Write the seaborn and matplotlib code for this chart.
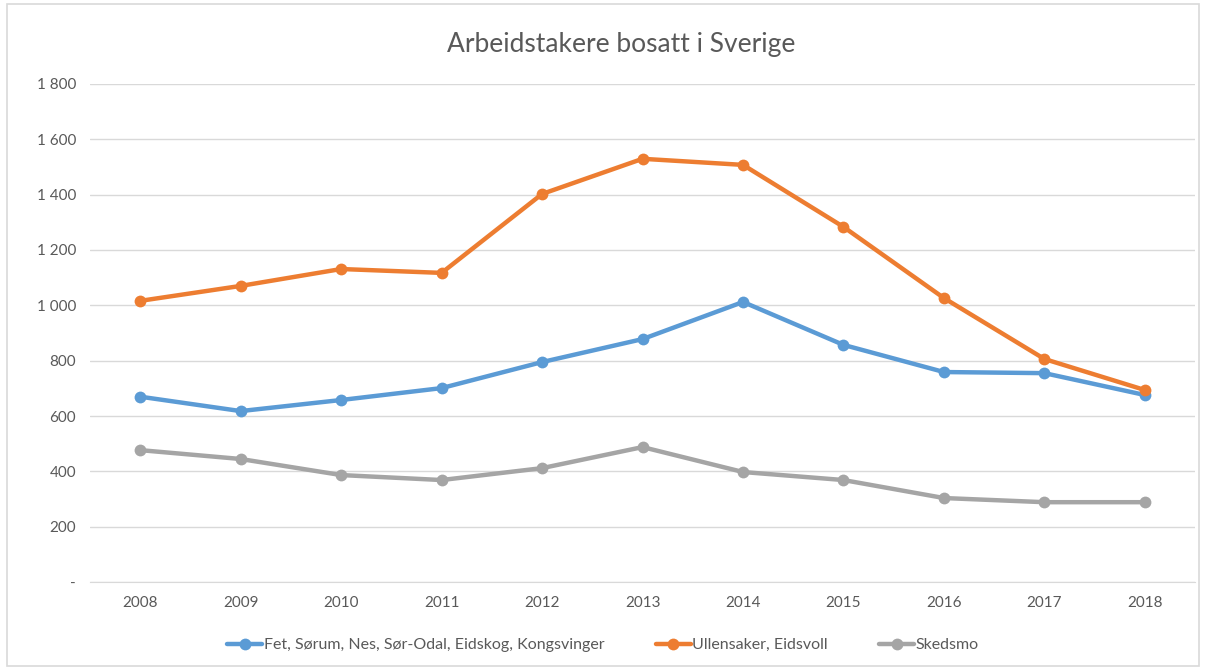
import numpy as np
import pandas as pd
import matplotlib
matplotlib.use("Agg")
import matplotlib.pyplot as plt
import matplotlib.ticker as mticker
import seaborn as sns

years = [2008, 2009, 2010, 2011, 2012, 2013, 2014, 2015, 2016, 2017, 2018]
fet = [670, 618, 658, 701, 795, 878, 1012, 857, 759, 755, 676]
ullensaker = [1016, 1070, 1131, 1117, 1402, 1529, 1507, 1283, 1026, 806, 694]
skedsmo = [477, 445, 387, 369, 412, 488, 398, 369, 304, 289, 289]

series_names = ["Fet, Sørum, Nes, Sør-Odal, Eidskog, Kongsvinger",
                "Ullensaker, Eidsvoll", "Skedsmo"]
colors = ["#5B9BD5", "#ED7D31", "#A5A5A5"]

df = pd.DataFrame({
    "year": years * 3,
    "value": fet + ullensaker + skedsmo,
    "serie": [series_names[0]] * 11 + [series_names[1]] * 11 + [series_names[2]] * 11,
})
df["pos"] = df["year"] - years[0]

sns.set_style("white")
plt.rcParams["font.family"] = ["Lato", "DejaVu Sans"]

fig = plt.figure(figsize=(12.06, 6.70), dpi=100)
ax = fig.add_axes([0.0746, 0.131, 0.9164, 0.744])

sns.lineplot(data=df, x="pos", y="value", hue="serie", palette=colors,
             marker="o", markersize=8.5, markeredgewidth=0, linewidth=3.2,
             ax=ax, legend=False)

ax.set_xlim(-0.5, len(years) - 0.5)
ax.set_ylim(0, 1800)
ax.set_xticks(range(len(years)))
ax.set_xticklabels([str(y) for y in years])
ax.set_yticks(range(0, 1801, 200))

def fmt(v, p):
    if v == 0:
        return "-"
    return f"{int(v):,}".replace(",", " ")

ax.yaxis.set_major_formatter(mticker.FuncFormatter(fmt))
ax.yaxis.grid(True, color="#D9D9D9", linewidth=1)
ax.set_axisbelow(True)
for s in ["top", "right", "left"]:
    ax.spines[s].set_visible(False)
ax.spines["bottom"].set_color("#D9D9D9")
ax.tick_params(axis="both", length=0, labelsize=11, labelcolor="#595959", pad=10)
ax.set_xlabel("")
ax.set_ylabel("")

fig.text(0.515, 0.934, "Arbeidstakere bosatt i Sverige", ha="center", va="center",
         fontsize=19, color="#595959")

handles = [plt.Line2D([], [], color=c, marker="o", markersize=8.5, linewidth=3.2,
                      markeredgewidth=0) for c in colors]
fig.legend(handles, series_names, loc="center", bbox_to_anchor=(0.5, 0.037),
           ncol=3, frameon=False, fontsize=11.5, labelcolor="#595959",
           handlelength=2.2, handletextpad=0.1, columnspacing=3.2)

border = plt.Rectangle((0.006, 0.006), 0.988, 0.988, transform=fig.transFigure,
                       fill=False, edgecolor="#D9D9D9", linewidth=1.2)
fig.patches.append(border)

fig.savefig("out.png", dpi=100)
plt.close(fig)
